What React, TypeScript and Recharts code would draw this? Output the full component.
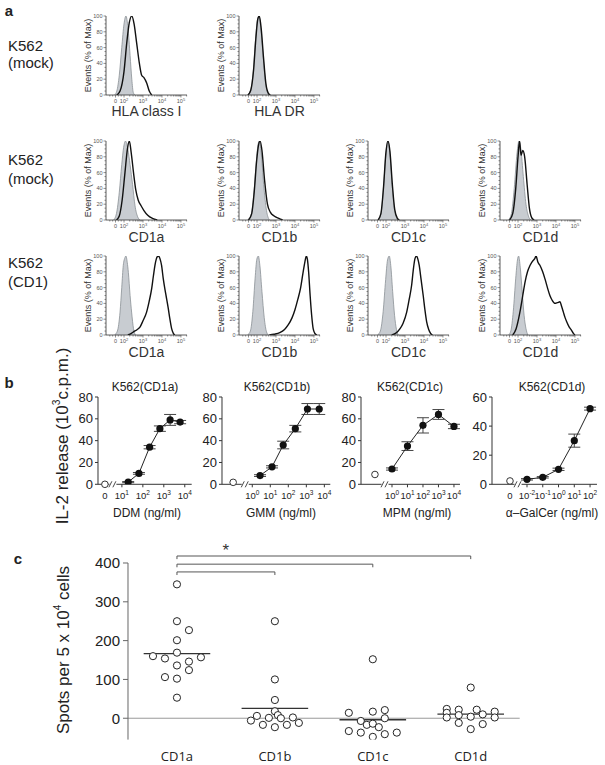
import React from 'react';
import {
  ComposedChart, Area, Line, Scatter, XAxis, YAxis,
  ReferenceLine, ReferenceDot, ErrorBar,
} from 'recharts';

const SANS = '"Liberation Sans", Arial, Helvetica, sans-serif';
const OPEN = '"Open Sans", "Liberation Sans", sans-serif';

type Pt = [number, number];

// ---------------- Panel a : flow cytometry histograms ----------------
// x = log10 fluorescence (display scale), y = % of max
const hlaClassIIso: Pt[] = [[1.5,0],[1.62,5],[1.75,25],[1.88,60],[2.0,90],[2.1,100],[2.21,85],[2.32,50],[2.41,20],[2.49,3],[2.58,0]];
const hlaClassIStain: Pt[] = [[1.62,0],[1.79,5],[2.0,30],[2.14,65],[2.28,92],[2.41,100],[2.53,90],[2.67,65],[2.81,40],[2.93,25],[3.05,22],[3.2,15],[3.33,5],[3.46,0]];
const hlaDrIso: Pt[] = [[1.5,0],[1.65,5],[1.8,30],[1.92,70],[2.02,95],[2.1,100],[2.2,85],[2.32,50],[2.45,15],[2.58,2],[2.68,0]];
const hlaDrStain: Pt[] = [[1.52,0],[1.67,6],[1.82,32],[1.94,72],[2.04,96],[2.12,100],[2.22,84],[2.34,48],[2.47,14],[2.6,2],[2.7,0]];

const cd1aMockIso: Pt[] = [[1.45,0],[1.6,8],[1.75,35],[1.88,70],[1.98,92],[2.08,100],[2.2,90],[2.32,70],[2.45,45],[2.58,18],[2.72,4],[2.85,0]];
const cd1aMockStain: Pt[] = [[1.6,0],[1.75,5],[1.9,25],[2.05,60],[2.18,90],[2.28,100],[2.38,85],[2.5,60],[2.62,38],[2.75,25],[2.9,18],[3.05,12],[3.25,6],[3.5,2],[3.75,0]];
const cd1bMockIso: Pt[] = [[1.5,0],[1.68,6],[1.82,30],[1.95,70],[2.05,95],[2.12,100],[2.22,85],[2.35,45],[2.5,12],[2.65,0]];
const cd1bMockStain: Pt[] = [[1.55,0],[1.72,8],[1.85,35],[1.98,75],[2.08,95],[2.16,100],[2.26,88],[2.4,50],[2.55,20],[2.7,10],[2.9,5],[3.15,2],[3.35,0]];
const cd1cMockIso: Pt[] = [[1.6,0],[1.75,10],[1.88,45],[2.0,85],[2.1,100],[2.2,85],[2.32,45],[2.45,12],[2.58,2],[2.68,0]];
const cd1cMockStain: Pt[] = [[1.58,0],[1.73,8],[1.87,42],[1.99,84],[2.1,100],[2.21,86],[2.33,46],[2.46,13],[2.6,2],[2.7,0]];
const cd1dMockIso: Pt[] = [[1.5,0],[1.65,8],[1.8,40],[1.95,85],[2.05,100],[2.15,90],[2.28,55],[2.42,20],[2.55,5],[2.68,0]];
const cd1dMockStain: Pt[] = [[1.55,0],[1.72,8],[1.88,40],[2.0,80],[2.08,100],[2.16,82],[2.25,88],[2.35,80],[2.48,45],[2.6,15],[2.72,3],[2.85,0]];

const cd1aIso: Pt[] = [[1.5,0],[1.65,5],[1.79,29],[1.88,60],[1.96,88],[2.05,98],[2.1,100],[2.17,92],[2.23,79],[2.32,50],[2.4,29],[2.5,8],[2.6,0]];
const cd1aStain: Pt[] = [[2.2,0],[2.32,1],[2.5,4],[2.7,7],[2.84,10],[3.0,18],[3.19,29],[3.32,42],[3.46,59],[3.55,75],[3.63,88],[3.7,96],[3.75,99],[3.82,100],[3.89,97],[3.98,88],[4.07,71],[4.2,52],[4.33,34],[4.42,20],[4.51,8],[4.6,2],[4.68,0]];
const cd1bIso: Pt[] = [[1.5,0],[1.65,5],[1.78,30],[1.9,72],[1.99,96],[2.07,100],[2.15,88],[2.26,55],[2.38,22],[2.5,4],[2.6,0]];
const cd1bStain: Pt[] = [[2.65,0],[2.9,1],[3.2,3],[3.45,7],[3.65,13],[3.85,22],[4.0,32],[4.15,45],[4.3,60],[4.42,78],[4.52,92],[4.6,100],[4.66,95],[4.72,80],[4.8,50],[4.88,25],[4.96,8],[5.05,2],[5.15,0]];
const cd1cIso: Pt[] = [[1.55,0],[1.7,5],[1.85,30],[1.98,70],[2.08,95],[2.17,100],[2.25,88],[2.35,55],[2.45,25],[2.55,7],[2.65,0]];
const cd1cStain: Pt[] = [[2.3,0],[2.5,2],[2.74,8],[2.9,15],[3.09,29],[3.22,45],[3.35,63],[3.45,85],[3.53,97],[3.61,100],[3.68,96],[3.75,88],[3.85,70],[3.96,50],[4.05,32],[4.14,17],[4.25,7],[4.35,2],[4.45,0]];
const cd1dIso: Pt[] = [[1.5,0],[1.62,5],[1.75,30],[1.88,72],[1.97,95],[2.03,100],[2.12,85],[2.22,55],[2.32,25],[2.42,8],[2.52,0]];
const cd1dStain: Pt[] = [[1.72,0],[1.9,8],[2.1,29],[2.25,50],[2.37,67],[2.5,80],[2.63,88],[2.75,93],[2.89,97],[2.95,100],[3.05,92],[3.16,88],[3.3,80],[3.42,71],[3.55,60],[3.68,50],[3.8,44],[3.95,40],[4.08,41],[4.21,42],[4.3,36],[4.39,29],[4.48,22],[4.56,17],[4.7,10],[4.82,6],[4.92,2],[5.0,0]];

const histXLabels = [
  { v: 1.55, t: '0', e: '' },
  { v: 2, t: '10', e: '2' },
  { v: 3, t: '10', e: '3' },
  { v: 4, t: '10', e: '4' },
  { v: 5, t: '10', e: '5' },
];
const histXMinor: number[] = [1.25, 1.4, 1.7, 1.85];
for (const dec of [2, 3, 4]) for (let k = 2; k <= 9; k++) histXMinor.push(dec + Math.log10(k));
histXMinor.push(5 + Math.log10(2));
const histXTicks = [...histXLabels.map(l => l.v), ...histXMinor].sort((a, b) => a - b);
const histYTicks: number[] = [];
for (let v = 0; v <= 100; v += 5) histYTicks.push(v);

// ---------------- Panel b : IL-2 release dose responses ----------------
const ddmDose = [20, 65, 210, 650, 2000, 6000];
const cd1aIL2 = [2, 10, 34, 51, 59, 57];
const cd1aIL2Err = [0.5, 0.8, 1.5, 2.5, 5, 1.5];
const cd1aIL2NoLipid = 0;

const gmmDose = [2.7, 12.5, 52, 245, 1150, 5200];
const cd1bIL2 = [8, 16, 36, 51, 69, 69];
const cd1bIL2Err = [0.8, 1, 3.5, 3, 5, 5];
const cd1bIL2NoLipid = 1.8;

const mpmDose = [1, 10, 100, 1000, 10000];
const cd1cIL2 = [14, 35, 54, 64, 53];
const cd1cIL2Err = [1, 4, 7, 4.5, 2];
const cd1cIL2NoLipid = 9;

const galcerDose = [0.01, 0.1, 1, 10, 100];
const cd1dIL2 = [3.4, 4.8, 10.3, 30, 52];
const cd1dIL2Err = [0.5, 0.5, 0.8, 4.5, 1];
const cd1dIL2NoLipid = 2.3;

// ---------------- Panel c : ELISPOT ----------------
const spotCats = ['CD1a', 'CD1b', 'CD1c', 'CD1d'];
const cd1aSpots = [345, 250, 227, 201, 169, 160, 154, 136, 146, 157, 124, 106, 102, 53];
const cd1aSlots = [0, 0, 2, 0, 0, -4, -2, 0, 2, 4, 2, -2, 0, 0];
const cd1bSpots = [-6, 6, -17, 1, -23, 18, 8, 0, -17, 2, -12, 47, 100, 250];
const cd1bSlots = [-4, -3, -2, -1, 0, 0, 0.5, 1, 2, 3, 4, 0, 0, 0];
const cd1cSpots = [152, 14, 17, 21, 0, -7, -17, -14, -23, -33, -37, -48, -41, -37];
const cd1cSlots = [0, -4, 0, 2, 2, -2, -1, 0, 1, -4, -2, 0, 2, 4];
const cd1dSpots = [24, 14, 2, 22, 8, -12, 79, 4, -28, 22, 10, -15, 17, 2];
const cd1dSlots = [-4, -4, -4, -2, -2, -2, 0, 0, 0, 1, 2, 2, 4, 4];

// ============================================================

const toXY = (pts: Pt[]) => pts.map(([x, y]) => ({ x, y }));

const HistXTick = (p: any) => {
  const lab = histXLabels.find(l => Math.abs(l.v - p.payload.value) < 1e-6);
  return (
    <g>
      <line x1={p.x} y1={p.y} x2={p.x} y2={p.y + (lab ? 2.5 : 1.5)} stroke="#444" strokeWidth={0.6} />
      {lab && (
        <text x={p.x} y={p.y + 8} textAnchor="middle" fontSize={5.5} fill="#555" fontFamily={SANS}>
          <tspan>{lab.t}</tspan>
          {lab.e && <tspan dy={-2.2} fontSize={4}>{lab.e}</tspan>}
        </text>
      )}
    </g>
  );
};

const HistYTick = (p: any) => {
  const v = p.payload.value;
  const major = v % 20 === 0;
  return (
    <g>
      <line x1={p.x} y1={p.y} x2={p.x - (major ? 2.5 : 1.5)} y2={p.y} stroke="#444" strokeWidth={0.6} />
      {major && (
        <text x={p.x - 3.5} y={p.y + 2} textAnchor="end" fontSize={5.5} fill="#555" fontFamily={SANS}>{v}</text>
      )}
    </g>
  );
};

function Histo({ ax, ty, iso, stain, title, titleGap }: { ax: number; ty: number; iso: Pt[]; stain: Pt[]; title: string; titleGap: number }) {
  const YW = 32, MT = 4, MR = 4, XH = 26, PW = 81, PH = 79;
  return (
    <div style={{ position: 'absolute', left: ax - YW, top: ty - MT }}>
      <ComposedChart width={YW + PW + MR} height={MT + PH + XH} margin={{ top: MT, right: MR, bottom: 0, left: 0 }}>
        <XAxis type="number" dataKey="x" domain={[1.05, 5.32]} allowDataOverflow ticks={histXTicks} interval={0}
          tickLine={false} tickSize={0} tickMargin={0} tick={HistXTick} axisLine={{ stroke: '#333', strokeWidth: 0.8 }} height={XH}
          label={{ value: title, position: 'insideBottom', offset: XH - titleGap, fontSize: 14, fill: '#333', fontFamily: SANS }} />
        <YAxis type="number" dataKey="y" domain={[0, 100]} allowDataOverflow ticks={histYTicks} interval={0} width={YW}
          tickLine={false} tickSize={0} tickMargin={0} tick={HistYTick} axisLine={{ stroke: '#333', strokeWidth: 0.8 }}
          label={{ value: 'Events (% of Max)', angle: -90, position: 'insideLeft', offset: 14, fontSize: 9, fill: '#333', fontFamily: SANS, style: { textAnchor: 'middle' } }} />
        <Area data={toXY(iso)} dataKey="y" type="monotone" fill="#c8ccd1" fillOpacity={1} stroke="#8a9096" strokeWidth={0.8}
          dot={false} activeDot={false} isAnimationActive={false} />
        <Line data={toXY(stain)} dataKey="y" type="monotone" stroke="#111" strokeWidth={1.4}
          dot={false} activeDot={false} isAnimationActive={false} />
      </ComposedChart>
    </div>
  );
}

type DoseTickLab = { v: number; t: string; e?: string };

function makeDoseTick(labels: DoseTickLab[]) {
  return (p: any) => {
    const lab = labels.find(l => Math.abs(l.v - p.payload.value) < 1e-6);
    if (!lab) return <g />;
    return (
      <g>
        {lab.e !== undefined && <line x1={p.x} y1={p.y} x2={p.x} y2={p.y + 3} stroke="#333" strokeWidth={1} />}
        <text x={p.x} y={p.y + 15} textAnchor="middle" fontSize={9.5} fontFamily={SANS} fill="#222">
          <tspan>{lab.t}</tspan>
          {lab.e !== undefined && <tspan dy={-4} fontSize={6.5}>{lab.e}</tspan>}
        </text>
      </g>
    );
  };
}

const BreakMark = (p: any) => (
  <g>
    <rect x={p.cx - 3.5} y={p.cy - 1.5} width={7} height={3} fill="#fff" />
    <line x1={p.cx - 4} y1={p.cy + 3} x2={p.cx - 1} y2={p.cy - 3} stroke="#333" strokeWidth={0.9} />
    <line x1={p.cx} y1={p.cy + 3} x2={p.cx + 3} y2={p.cy - 3} stroke="#333" strokeWidth={0.9} />
  </g>
);

function DoseChart(props: {
  axL: number; axR: number; yMax: number; yTicks: number[]; domain: [number, number];
  doses: number[]; vals: number[]; errs: number[]; zeroPos: number; zeroVal: number; brk: number;
  ticks: DoseTickLab[];
}) {
  const { axL, axR, yMax, yTicks, domain, doses, vals, errs, zeroPos, zeroVal, brk, ticks } = props;
  const yTop = 397, y0 = 484.3;
  const YW = 40, MT = 6, MR = 6, XH = 20;
  const data = doses.map((d, i) => ({ x: Math.log10(d), y: vals[i], err: errs[i] }));
  return (
    <div style={{ position: 'absolute', left: axL - YW, top: yTop - MT }}>
      <ComposedChart width={YW + (axR - axL) + MR} height={MT + (y0 - yTop) + XH} margin={{ top: MT, right: MR, bottom: 0, left: 0 }}>
        <XAxis type="number" dataKey="x" domain={domain} allowDataOverflow ticks={ticks.map(t => t.v)} interval={0}
          tickLine={false} tickSize={0} tickMargin={0} tick={makeDoseTick(ticks)} axisLine={{ stroke: '#333', strokeWidth: 1 }} height={XH} />
        <YAxis type="number" dataKey="y" domain={[0, yMax]} allowDataOverflow ticks={yTicks} interval={0} width={YW}
          tickSize={3} tickMargin={2} stroke="#333" tick={{ fontSize: 13, fill: '#222', fontFamily: SANS }} />
        <Line data={data} dataKey="y" type="linear" stroke="#222" strokeWidth={1}
          dot={{ r: 3.6, fill: '#111', stroke: '#111', strokeWidth: 0 }} activeDot={false} isAnimationActive={false}>
          <ErrorBar dataKey="err" width={6} stroke="#444" strokeWidth={1} direction="y" />
        </Line>
        <ReferenceDot x={brk} y={0} ifOverflow="visible" shape={BreakMark} />
        <ReferenceDot x={zeroPos} y={zeroVal} r={3.3} fill="#fff" stroke="#333" strokeWidth={1} ifOverflow="visible" />
      </ComposedChart>
    </div>
  );
}

const OpenCircle = (p: any) => <circle cx={p.cx} cy={p.cy} r={3.6} fill="#fff" stroke="#222" strokeWidth={1} />;

const SLOT = 6 / 98;
const spotGroups = [
  { vals: cd1aSpots, slots: cd1aSlots },
  { vals: cd1bSpots, slots: cd1bSlots },
  { vals: cd1cSpots, slots: cd1cSlots },
  { vals: cd1dSpots, slots: cd1dSlots },
];

function SpotChart() {
  const YW = 50, MT = 25, MR = 10, XH = 26;
  const plotW = 391.7, plotH = 176.6;
  const scatterData = spotGroups.flatMap((g, i) => g.vals.map((v, j) => ({ x: i + g.slots[j] * SLOT, y: v })));
  const means = spotGroups.map(g => g.vals.reduce((a, b) => a + b, 0) / g.vals.length);
  const brackets = [{ to: 3, y: 418 }, { to: 2, y: 397 }, { to: 1, y: 377 }];
  return (
    <div style={{ position: 'absolute', left: 128.3 - YW, top: 562.7 - MT }}>
      <ComposedChart width={YW + plotW + MR} height={MT + plotH + XH} margin={{ top: MT, right: MR, bottom: 0, left: 0 }}>
        <XAxis type="number" dataKey="x" domain={[-0.5, 3.5]} allowDataOverflow ticks={[0, 1, 2, 3]} interval={0}
          tickFormatter={(i: number) => spotCats[i]} axisLine={false} tickLine={false} tickSize={0} tickMargin={12} height={XH}
          tick={{ fontSize: 13, fill: '#222', fontFamily: OPEN }} />
        <YAxis type="number" dataKey="y" domain={[-55, 400]} allowDataOverflow ticks={[0, 100, 200, 300, 400]} interval={0} width={YW}
          tickSize={5} tickMargin={3} stroke="#666" tick={{ fontSize: 15, fill: '#222', fontFamily: SANS }} />
        <ReferenceLine y={0} stroke="#9a9a9a" strokeWidth={1} />
        {brackets.map((b, k) => (
          <ReferenceLine key={'b' + k} ifOverflow="visible" stroke="#555" strokeWidth={1}
            segment={[{ x: 0, y: b.y - 8 }, { x: 0, y: b.y }]} />
        ))}
        {brackets.map((b, k) => (
          <ReferenceLine key={'h' + k} ifOverflow="visible" stroke="#555" strokeWidth={1}
            segment={[{ x: 0, y: b.y }, { x: b.to, y: b.y }]} />
        ))}
        {brackets.map((b, k) => (
          <ReferenceLine key={'r' + k} ifOverflow="visible" stroke="#555" strokeWidth={1}
            segment={[{ x: b.to, y: b.y }, { x: b.to, y: b.y - 8 }]} />
        ))}
        <ReferenceDot x={0.5} y={443} ifOverflow="visible"
          shape={(p: any) => <text x={p.cx} y={p.cy + 10} textAnchor="middle" fontSize={17} fill="#333" fontFamily={SANS}>*</text>} />
        <Scatter data={scatterData} dataKey="y" shape={OpenCircle} isAnimationActive={false} />
        {means.map((m, i) => (
          <ReferenceLine key={'m' + i} ifOverflow="visible" stroke="#333" strokeWidth={1.4}
            segment={[{ x: i - 0.34, y: m }, { x: i + 0.34, y: m }]} />
        ))}
      </ComposedChart>
    </div>
  );
}

function T(props: { x: number; y: number; size: number; children: React.ReactNode; bold?: boolean; rotate?: boolean; start?: boolean; family?: string; color?: string }) {
  const { x, y, size, children, bold, rotate, start, family, color } = props;
  return (
    <div style={{
      position: 'absolute', left: x, top: y,
      transform: `translate(${start ? '0' : '-50%'}, -50%)${rotate ? ' rotate(-90deg)' : ''}`,
      fontSize: size, lineHeight: 1, whiteSpace: 'nowrap', fontFamily: family || SANS,
      fontWeight: bold ? 700 : 400, color: color || '#222',
    }}>{children}</div>
  );
}

const sup = (s: string) => <sup style={{ fontSize: '0.6em', verticalAlign: '0.7em', lineHeight: 0 }}>{s}</sup>;

export default function App() {
  const histCols = [106, 239, 368, 500];
  const rowTops = [15.7, 140.7, 256];
  const gap1 = 20.5, gap2 = 21.5;
  const dec = (a: number, b: number) => { const r: DoseTickLab[] = []; for (let e = a; e <= b; e++) r.push({ v: e, t: '10', e: String(e) }); return r; };
  return (
    <div style={{ position: 'absolute', left: 0, top: 0, width: 605, height: 765, background: '#fff', overflow: 'hidden' }}>
      {/* Panel a */}
      <Histo ax={histCols[0]} ty={rowTops[0]} iso={hlaClassIIso} stain={hlaClassIStain} title="HLA class I" titleGap={gap1} />
      <Histo ax={histCols[1]} ty={rowTops[0]} iso={hlaDrIso} stain={hlaDrStain} title="HLA DR" titleGap={gap1} />
      <Histo ax={histCols[0]} ty={rowTops[1]} iso={cd1aMockIso} stain={cd1aMockStain} title="CD1a" titleGap={gap2} />
      <Histo ax={histCols[1]} ty={rowTops[1]} iso={cd1bMockIso} stain={cd1bMockStain} title="CD1b" titleGap={gap2} />
      <Histo ax={histCols[2]} ty={rowTops[1]} iso={cd1cMockIso} stain={cd1cMockStain} title="CD1c" titleGap={gap2} />
      <Histo ax={histCols[3]} ty={rowTops[1]} iso={cd1dMockIso} stain={cd1dMockStain} title="CD1d" titleGap={gap2} />
      <Histo ax={histCols[0]} ty={rowTops[2]} iso={cd1aIso} stain={cd1aStain} title="CD1a" titleGap={gap2} />
      <Histo ax={histCols[1]} ty={rowTops[2]} iso={cd1bIso} stain={cd1bStain} title="CD1b" titleGap={gap2} />
      <Histo ax={histCols[2]} ty={rowTops[2]} iso={cd1cIso} stain={cd1cStain} title="CD1c" titleGap={gap2} />
      <Histo ax={histCols[3]} ty={rowTops[2]} iso={cd1dIso} stain={cd1dStain} title="CD1d" titleGap={gap2} />

      {/* Panel b */}
      <DoseChart axL={98.3} axR={192} yMax={80} yTicks={[0, 20, 40, 60, 80]} domain={[-0.14, 4.33]}
        doses={ddmDose} vals={cd1aIL2} errs={cd1aIL2Err} zeroPos={0.19} zeroVal={cd1aIL2NoLipid} brk={0.57}
        ticks={[{ v: 0.19, t: '0' }, ...dec(1, 4)]} />
      <DoseChart axL={221.7} axR={330} yMax={80} yTicks={[0, 20, 40, 60, 80]} domain={[-1.68, 4.33]}
        doses={gmmDose} vals={cd1bIL2} errs={cd1bIL2Err} zeroPos={-1.06} zeroVal={cd1bIL2NoLipid} brk={-0.39}
        ticks={dec(0, 4)} />
      <DoseChart axL={361} axR={460} yMax={80} yTicks={[0, 20, 40, 60, 80]} domain={[-2.0, 4.39]}
        doses={mpmDose} vals={cd1cIL2} errs={cd1cIL2Err} zeroPos={-1.1} zeroVal={cd1cIL2NoLipid} brk={-0.45}
        ticks={dec(0, 4)} />
      <DoseChart axL={492} axR={597} yMax={60} yTicks={[0, 20, 40, 60]} domain={[-4.22, 2.44]}
        doses={galcerDose} vals={cd1dIL2} errs={cd1dIL2Err} zeroPos={-3.08} zeroVal={cd1dIL2NoLipid} brk={-2.57}
        ticks={[{ v: -3.08, t: '0' }, ...dec(-2, 2)]} />

      {/* Panel c */}
      <SpotChart />

      {/* Texts */}
      <T x={9} y={10} size={15} bold>a</T>
      <T x={9} y={382} size={15} bold>b</T>
      <T x={18} y={558} size={15} bold>c</T>

      <T x={8} y={45} size={15} start>K562</T>
      <T x={8} y={62} size={15} start>(mock)</T>
      <T x={8} y={158.5} size={15} start>K562</T>
      <T x={8} y={178.3} size={15} start>(mock)</T>
      <T x={8} y={261.7} size={15} start>K562</T>
      <T x={8} y={280.5} size={15} start>(CD1)</T>

      <T x={145} y={387} size={12}>K562(CD1a)</T>
      <T x={277} y={387} size={12}>K562(CD1b)</T>
      <T x={410} y={387} size={12}>K562(CD1c)</T>
      <T x={552} y={387} size={12}>K562(CD1d)</T>

      <T x={147} y={512.7} size={12}>DDM (ng/ml)</T>
      <T x={281} y={512.7} size={12}>GMM (ng/ml)</T>
      <T x={417} y={512.7} size={12}>MPM (ng/ml)</T>
      <T x={552} y={512.7} size={12}>α–GalCer (ng/ml)</T>

      <T x={62} y={436} size={17} rotate>IL-2 release (10{sup('3')}c.p.m.)</T>
      <T x={63} y={650} size={17} rotate>Spots per 5 x 10{sup('4')} cells</T>
    </div>
  );
}
